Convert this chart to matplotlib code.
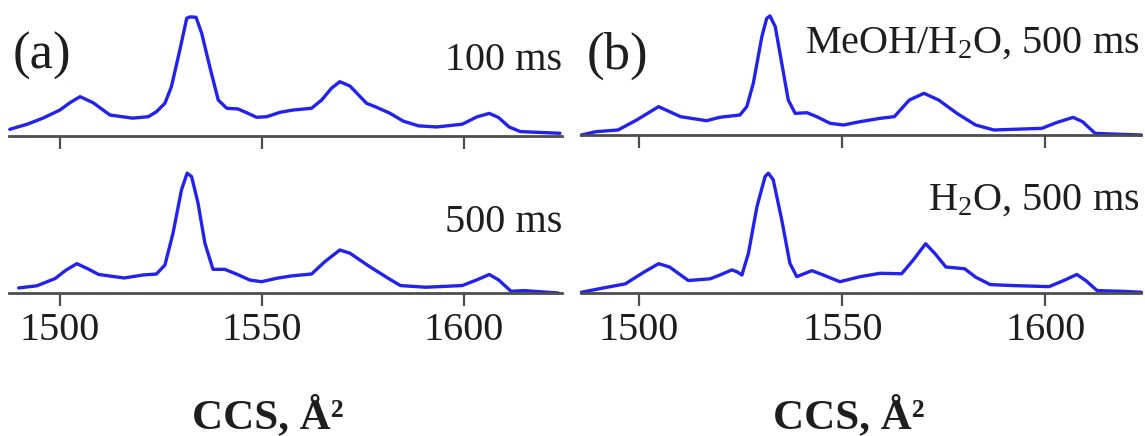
import matplotlib
matplotlib.use("Agg")
import matplotlib.pyplot as plt

plt.rcParams["font.family"] = ["Liberation Serif", "DejaVu Serif"]
plt.rcParams["mathtext.fontset"] = "custom"
plt.rcParams["mathtext.rm"] = "Liberation Serif"
plt.rcParams["mathtext.default"] = "regular"

# CCS axis (Å^2) and normalized arrival-time intensities
ccs_a_top = [1487.6, 1492.0, 1495.8, 1500.0, 1502.5, 1505.0, 1508.2, 1512.4, 1518.0, 1521.9,
             1523.9, 1526.0, 1527.6, 1529.7, 1531.4, 1532.2, 1533.7, 1535.1, 1537.1, 1539.2,
             1541.3, 1544.1, 1546.2, 1548.7, 1551.2, 1554.5, 1557.7, 1562.3, 1564.8, 1567.2,
             1569.3, 1571.8, 1575.9, 1578.4, 1581.7, 1585.0, 1588.8, 1593.3, 1599.6, 1603.2,
             1606.3, 1608.6, 1611.2, 1614.0, 1620.2, 1623.8]
int_a_top = [0.056, 0.10, 0.15, 0.218, 0.28, 0.33, 0.28, 0.176, 0.15, 0.162,
             0.204, 0.275, 0.414, 0.723, 0.989, 1.0, 0.997, 0.863, 0.582, 0.302,
             0.233, 0.227, 0.196, 0.157, 0.162, 0.199, 0.218, 0.233, 0.302, 0.40,
             0.456, 0.420, 0.275, 0.241, 0.191, 0.125, 0.085, 0.076, 0.099, 0.16,
             0.19, 0.155, 0.076, 0.037, 0.028, 0.023]

ccs_a_bot = [1489.8, 1494.3, 1498.8, 1501.5, 1504.2, 1507.0, 1509.6, 1515.9, 1520.6, 1523.9,
             1526.0, 1528.0, 1530.1, 1531.5, 1532.6, 1534.2, 1535.9, 1537.9, 1540.8, 1543.7,
             1547.0, 1549.9, 1553.6, 1557.3, 1562.3, 1565.6, 1569.3, 1571.8, 1576.7, 1581.3,
             1584.3, 1590.6, 1599.6, 1603.2, 1606.3, 1608.6, 1611.7, 1614.9, 1623.4]
int_a_bot = [0.042, 0.06, 0.12, 0.19, 0.244, 0.20, 0.154, 0.125, 0.15, 0.158,
             0.233, 0.497, 0.858, 0.997, 0.969, 0.747, 0.414, 0.197, 0.197, 0.158,
             0.108, 0.094, 0.122, 0.142, 0.158, 0.261, 0.358, 0.331, 0.219, 0.122,
             0.062, 0.048, 0.062, 0.109, 0.154, 0.109, 0.014, 0.02, 0.0]

ccs_b_top = [1485.8, 1489.4, 1494.8, 1499.4, 1504.8, 1510.2, 1516.6, 1519.9, 1524.8, 1526.5,
             1528.1, 1530.2, 1531.4, 1532.2, 1533.5, 1535.1, 1536.7, 1538.4, 1541.3, 1543.7,
             1547.0, 1550.3, 1554.4, 1559.3, 1562.8, 1566.5, 1570.1, 1573.7, 1578.2, 1582.8,
             1587.3, 1599.1, 1602.7, 1606.8, 1609.1, 1612.2, 1616.3, 1623.6]
int_b_top = [0.0, 0.028, 0.042, 0.126, 0.238, 0.154, 0.12, 0.149, 0.168, 0.238,
             0.434, 0.826, 0.98, 1.0, 0.91, 0.602, 0.294, 0.182, 0.187, 0.154,
             0.098, 0.084, 0.112, 0.14, 0.154, 0.294, 0.35, 0.294, 0.182, 0.084,
             0.042, 0.056, 0.104, 0.148, 0.112, 0.014, 0.008, 0.0]

ccs_b_bot = [1485.8, 1491.2, 1496.6, 1501.2, 1504.8, 1507.5, 1512.1, 1517.5, 1519.9, 1522.8,
             1524.0, 1525.3, 1526.9, 1529.0, 1531.0, 1531.8, 1533.0, 1535.1, 1537.1, 1538.8,
             1542.5, 1545.3, 1549.4, 1554.4, 1559.3, 1564.6, 1567.4, 1570.5, 1572.8, 1575.5,
             1580.1, 1582.8, 1586.4, 1591.8, 1600.9, 1604.5, 1607.7, 1609.9, 1612.7, 1619.0,
             1623.6]
int_b_bot = [0.006, 0.042, 0.076, 0.174, 0.244, 0.216, 0.104, 0.118, 0.15, 0.192,
             0.178, 0.15, 0.331, 0.719, 0.969, 0.997, 0.942, 0.608, 0.247, 0.136,
             0.186, 0.15, 0.094, 0.136, 0.164, 0.16, 0.272, 0.41, 0.328, 0.216,
             0.202, 0.132, 0.07, 0.062, 0.053, 0.104, 0.154, 0.104, 0.02, 0.014,
             0.006]

tick_values = [1500, 1550, 1600]
tick_labels = ["1500", "1550", "1600"]
panel_labels = ["(a)", "(b)"]
trace_labels = ["100 ms", "500 ms", "MeOH/H$_2$O, 500 ms", "H$_2$O, 500 ms"]
xlabel_text = "CCS, Å²"

W, H = 1145, 436
fig = plt.figure(figsize=(W / 100, H / 100), dpi=100)

line_color = "#2222ec"
spine_color = "#4d4d4d"
text_color = "#1e1e1e"


def px_rect(x0, x1, y_top, y_bottom):
    return [x0 / W, 1 - y_bottom / H, (x1 - x0) / W, (y_bottom - y_top) / H]


panels = [
    # (rect, xlim, ylim, x, y, show tick labels)
    (px_rect(9, 562, 5, 136), (1487.4, 1624.3), (0, 1.10), ccs_a_top, int_a_top, False),
    (px_rect(9, 562, 162, 293), (1487.4, 1624.3), (0, 1.09), ccs_a_bot, int_a_bot, True),
    (px_rect(581, 1141, 4, 135), (1485.7, 1623.5), (0, 1.10), ccs_b_top, int_b_top, False),
    (px_rect(581, 1141, 162, 293), (1485.7, 1623.5), (0, 1.09), ccs_b_bot, int_b_bot, True),
]

for rect, xlim, ylim, xs, ys, show in panels:
    ax = fig.add_axes(rect)
    ax.plot(xs, ys, color=line_color, lw=2.4, solid_joinstyle="round",
            solid_capstyle="round", clip_on=False)
    ax.set_xlim(*xlim)
    ax.set_ylim(*ylim)
    for side in ("top", "left", "right"):
        ax.spines[side].set_visible(False)
    ax.spines["bottom"].set_color(spine_color)
    ax.spines["bottom"].set_linewidth(2.0)
    ax.set_yticks([])
    ax.set_xticks(tick_values)
    ax.tick_params(axis="x", direction="out", length=9.5, width=1.6, color=spine_color,
                   pad=4, labelsize=29, labelcolor=text_color)
    if show:
        ax.set_xticklabels(tick_labels)
    else:
        ax.set_xticklabels([])
    ax.patch.set_alpha(0)

txt = dict(color=text_color, fontsize=29)
fig.text(13 / W, 1 - 56 / H, panel_labels[0], ha="left", va="center", color=text_color, fontsize=38)
fig.text(587 / W, 1 - 56 / H, panel_labels[1], ha="left", va="center", color=text_color, fontsize=38)
fig.text(562 / W, 1 - 70 / H, trace_labels[0], ha="right", va="baseline", **txt)
fig.text(562 / W, 1 - 232 / H, trace_labels[1], ha="right", va="baseline", **txt)
fig.text(1139 / W, 1 - 53 / H, trace_labels[2], ha="right", va="baseline", **txt)
fig.text(1139 / W, 1 - 210 / H, trace_labels[3], ha="right", va="baseline", **txt)

fig.text(268 / W, 1 - 428 / H, xlabel_text, ha="center", va="baseline",
         fontsize=31, fontweight="bold", color=text_color)
fig.text(849 / W, 1 - 428 / H, xlabel_text, ha="center", va="baseline",
         fontsize=31, fontweight="bold", color=text_color)

fig.savefig("out.png", dpi=100, facecolor="white")
